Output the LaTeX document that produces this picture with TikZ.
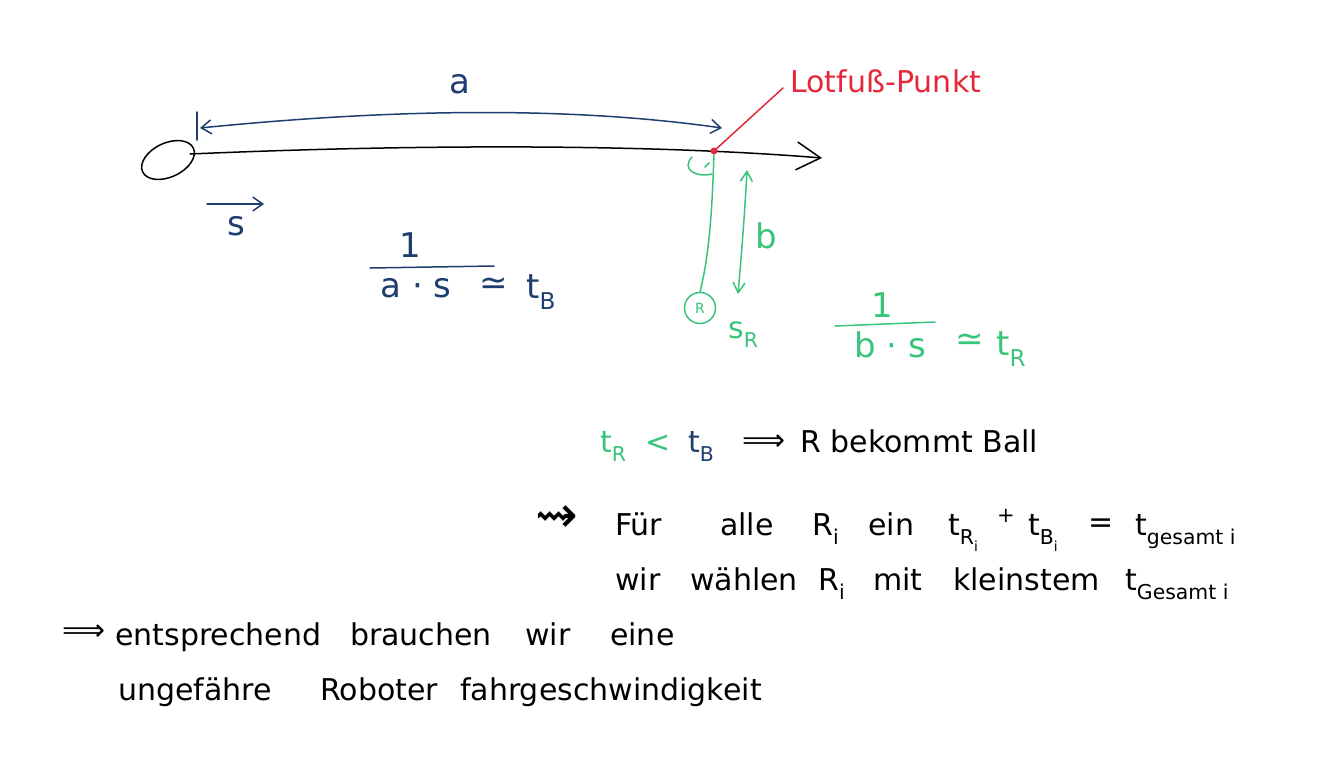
\documentclass[tikz,border=0pt]{standalone}
\usepackage{fontspec}
\setmainfont{DejaVu Sans}
\usetikzlibrary{arrows.meta,shapes.geometric}
\definecolor{inkblue}{RGB}{30,62,112}
\definecolor{inkgreen}{RGB}{56,196,122}
\definecolor{inkred}{RGB}{228,40,58}
\newcommand\sbs[1]{\raisebox{-0.6ex}{\scalebox{0.68}{#1}}}
\tikzset{
  ink/.style={line width=1.5pt, line cap=round, line join=round},
  hw/.style={font=\fontsize{30}{36}\selectfont, inner sep=0pt, anchor=base west},
  hwbig/.style={font=\fontsize{34}{40}\selectfont, inner sep=0pt},
  barb/.style={-{Straight Barb[length=10pt,width=14pt,line width=1.5pt]}},
  bigbarb/.style={-{Straight Barb[length=24pt,width=28pt,line width=1.5pt]}}
}
\begin{document}
\begin{tikzpicture}[x=1pt,y=-1pt]
\useasboundingbox (0,0) rectangle (1330,758);

% ball and main line
\node[ink, draw=black, ellipse, minimum width=56pt, minimum height=34pt, rotate=25, inner sep=0pt] (ball) at (168,160) {};
\coordinate (lineStart) at (190,154);
\coordinate (lineEnd) at (822,158);
\draw[ink, black, bigbarb] (lineStart) .. controls (420,144) and (650,144) .. (lineEnd);

% distance a
\coordinate (aL) at (200,128);
\coordinate (aR) at (722,128);
\coordinate (barTop) at (197,112);
\coordinate (barBot) at (197,140);
\draw[ink, inkblue] (barTop) -- (barBot);
\draw[ink, inkblue, {Straight Barb[length=10pt,width=14pt,line width=1.5pt]}-{Straight Barb[length=10pt,width=14pt,line width=1.5pt]}]
  (aL) .. controls (380,110) and (560,105) .. (aR);
\node[hwbig, text=inkblue] (alabel) at (460,84) {a};

% foot point
\node[circle, fill=inkred, inner sep=0pt, minimum size=7pt] (foot) at (714,151) {};
\coordinate (redEnd) at (783,88);
\draw[ink, inkred] (foot) -- (redEnd);
\node[hw, text=inkred] (footlabel) at (790,92) {Lotfuß-Punkt};

% robot
\node[ink, draw=inkgreen, circle, minimum size=31pt, inner sep=0pt, text=inkgreen, font=\fontsize{14}{15}\selectfont] (robot) at (700,308) {R};
\draw[ink, inkgreen] (foot) .. controls (712,220) and (708,260) .. (robot.north);
\coordinate (curlA) at (692,157);
\coordinate (curlB) at (712,174);
\draw[ink, inkgreen] (curlA) .. controls (680,170) and (698,178) .. (curlB);
\coordinate (curlT1) at (705,167);
\coordinate (curlT2) at (709,163);
\draw[ink, inkgreen] (curlT1) -- (curlT2);
\coordinate (bTop) at (747,170);
\coordinate (bBot) at (738,294);
\draw[ink, inkgreen, {Straight Barb[length=10pt,width=12pt,line width=1.5pt]}-{Straight Barb[length=10pt,width=12pt,line width=1.5pt]}]
  (bTop) .. controls (745,210) and (741,260) .. (bBot);
\node[hwbig, text=inkgreen] (blabel) at (766,236) {b};
\node[hw, text=inkgreen] (sR) at (728,338) {s\sbs{R}};

% vector s
\node[hwbig, text=inkblue] (svec) at (236,226) {s};
\coordinate (sArrL) at (207,204);
\coordinate (sArrR) at (264,204);
\draw[ink, inkblue, barb] (sArrL) -- (sArrR);

% fraction t_B
\node[hwbig, text=inkblue] (oneA) at (410,245) {1};
\coordinate (fracAL) at (370,268);
\coordinate (fracAR) at (494,266);
\draw[ink, inkblue] (fracAL) -- (fracAR);
\node[hwbig, text=inkblue] (denA) at (416,288) {a · s};
\node[hwbig, text=inkblue] (simA) at (494,286) {≃};
\node[hw, text=inkblue, font=\fontsize{34}{40}\selectfont] (tB) at (526,298) {t\sbs{B}};

% fraction t_R
\node[hwbig, text=inkgreen] (oneB) at (882,305) {1};
\coordinate (fracBL) at (835,326);
\coordinate (fracBR) at (935,322);
\draw[ink, inkgreen] (fracBL) -- (fracBR);
\node[hwbig, text=inkgreen] (denB) at (890,345) {b · s};
\node[hwbig, text=inkgreen] (simB) at (970,342) {≃};
\node[hw, text=inkgreen, font=\fontsize{34}{40}\selectfont] (tR) at (996,355) {t\sbs{R}};

% comparison
\node[hw, text=inkgreen] (cmpT) at (600,452) {t\sbs{R}};
\node[hw, text=inkgreen] (cmpLt) at (645,452) {<};
\node[hw, text=inkblue] (cmpB) at (688,452) {t\sbs{B}};
\node[hw, text=black] (cmpImp) at (742,450) {⟹};
\node[hw, text=black] (cmpRes) at (800,452) {R bekommt Ball};

% line: Für alle ...
\node[hw, text=black] (wSquig) at (535,532) {\scalebox{1.7}{⇝}};
\node[hw, text=black] (wFur) at (615,535) {Für};
\node[hw, text=black] (wAlle) at (720,535) {alle};
\node[hw, text=black] (wRi) at (812,535) {R\sbs{i}};
\node[hw, text=black] (wEin) at (868,535) {ein};
\node[hw, text=black] (wTRi) at (948,535) {t\sbs{R\sbs{i}}};
\node[hw, text=black] (wPlus) at (997,522) {\scalebox{0.7}{+}};
\node[hw, text=black] (wTBi) at (1028,535) {t\sbs{B\sbs{i}}};
\node[hw, text=black] (wEq) at (1088,532) {=};
\node[hw, text=black] (wTges) at (1135,535) {t\sbs{gesamt i}};

% line: wir wählen ...
\node[hw, text=black] (wWir) at (615,590) {wir};
\node[hw, text=black] (wWahlen) at (690,590) {wählen};
\node[hw, text=black] (wRiB) at (818,590) {R\sbs{i}};
\node[hw, text=black] (wMit) at (873,590) {mit};
\node[hw, text=black] (wKlein) at (953,590) {kleinstem};
\node[hw, text=black] (wTGes) at (1125,590) {t\sbs{Gesamt i}};

% line: entsprechend ...
\node[hw, text=black] (wImp) at (62,640) {⟹};
\node[hw, text=black] (wEnt) at (115,645) {entsprechend};
\node[hw, text=black] (wBrau) at (350,645) {brauchen};
\node[hw, text=black] (wWir2) at (525,645) {wir};
\node[hw, text=black] (wEine) at (610,645) {eine};

% line: ungefähre ...
\node[hw, text=black] (wUng) at (118,700) {ungefähre};
\node[hw, text=black] (wRob) at (320,700) {Roboter};
\node[hw, text=black] (wFahr) at (460,700) {fahrgeschwindigkeit};
\end{tikzpicture}
\end{document}
